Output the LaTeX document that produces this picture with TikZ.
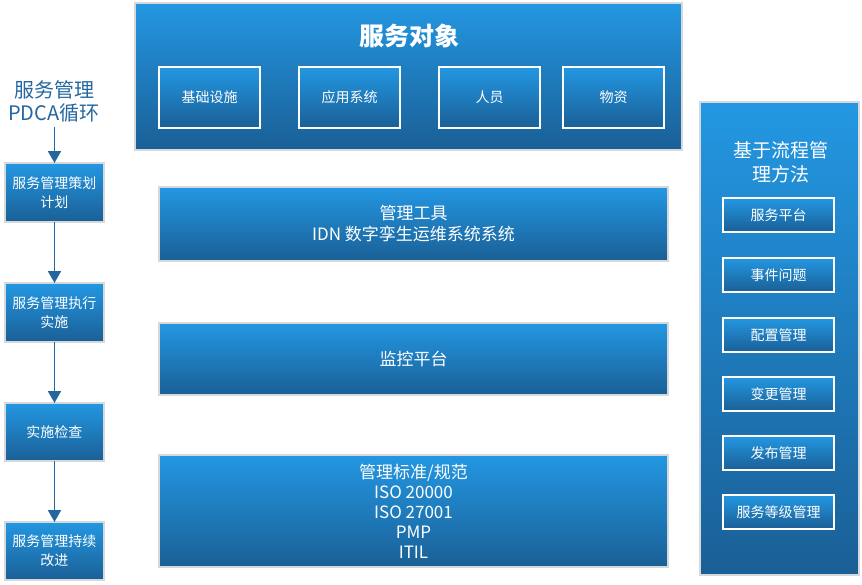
\documentclass[tikz,border=0pt]{standalone}
\usepackage{fontspec}
\setmainfont{Noto Sans CJK SC}
\usetikzlibrary{arrows.meta}
\definecolor{btop}{HTML}{2397E2}
\definecolor{bbot}{HTML}{1A5F96}
\definecolor{frame}{HTML}{D6D9DC}
\definecolor{ttl}{HTML}{2467A0}
\tikzset{
  x=1pt, y=-1pt,
  bigbox/.style={draw=frame, line width=1.2pt, top color=btop, bottom color=bbot, inner sep=0pt},
  smallbox/.style={draw=white, line width=1.6pt, top color=btop, bottom color=bbot},
  lbl/.style={text=white, font=\fontsize{14}{19}\selectfont, align=center},
  midlbl/.style={text=white, font=\fontsize{17}{21}\selectfont, align=center},
  flow/.style={draw=ttl, line width=1.8pt, -{Triangle[length=12pt,width=13pt]}}
}
\begin{document}
\begin{tikzpicture}
\useasboundingbox (0,0) rectangle (862,584);
% top box
\path[bigbox] (135,3) rectangle (682,150);
\node[text=white, font=\fontsize{25}{29}\selectfont\bfseries] (obj) at (409,36) {服务对象};
\foreach \xa/\xb/\t/\n in {159/260/基础设施/o1, 299/400/应用系统/o2, 439/540/人员/o3, 563/664/物资/o4}{
  \path[smallbox] (\xa,67) rectangle (\xb,128);
  \node[lbl] (\n) at ({(\xa+\xb)/2},97.5) {\t};
}
% middle boxes
\path[bigbox] (159,187) rectangle (668,261);
\node[midlbl] (tool) at (413.5,224) {管理工具\\IDN 数字孪生运维系统系统};
\path[bigbox] (159,323) rectangle (668,395);
\node[midlbl] (mon) at (413.5,359) {监控平台};
\path[bigbox] (159,455) rectangle (668,567);
\node[midlbl, font=\fontsize{17}{20}\selectfont] (std) at (413.5,511) {管理标准/规范\\ISO 20000\\ISO 27001\\PMP\\ITIL};
% left column
\node[text=ttl, align=center, font=\fontsize{20}{23}\selectfont] (pdca) at (54,101) {服务管理\\PDCA循环};
\path[bigbox] (5,163) rectangle (104,222);
\node[lbl] (l1) at (54.5,192.5) {服务管理策划\\计划};
\path[bigbox] (5,283) rectangle (104,342);
\node[lbl] (l2) at (54.5,312.5) {服务管理执行\\实施};
\path[bigbox] (5,403) rectangle (104,461);
\node[lbl] (l3) at (54.5,432) {实施检查};
\path[bigbox] (5,522) rectangle (104,580);
\node[lbl] (l4) at (54.5,551) {服务管理持续\\改进};
\coordinate (a0) at (54.5,127);
\coordinate (a1s) at (54.5,222); \coordinate (a1e) at (54.5,283);
\coordinate (a2s) at (54.5,342); \coordinate (a2e) at (54.5,403);
\coordinate (a3s) at (54.5,461); \coordinate (a3e) at (54.5,522);
\coordinate (a0e) at (54.5,163);
\draw[flow] (a0) -- (a0e);
\draw[flow] (a1s) -- (a1e);
\draw[flow] (a2s) -- (a2e);
\draw[flow] (a3s) -- (a3e);
% right column
\path[bigbox] (700,102) rectangle (859,575);
\node[text=white, align=center, font=\fontsize{19}{24}\selectfont] (proc) at (781,162) {基于流程管\\理方法};
\foreach \ya/\t/\n in {198/服务平台/r1, 258/事件问题/r2, 318/配置管理/r3, 377/变更管理/r4, 436/发布管理/r5, 495/服务等级管理/r6}{
  \path[smallbox] (723,\ya) rectangle (834,\ya+34);
  \node[lbl] (\n) at (778.5,\ya+17) {\t};
}
\end{tikzpicture}
\end{document}
